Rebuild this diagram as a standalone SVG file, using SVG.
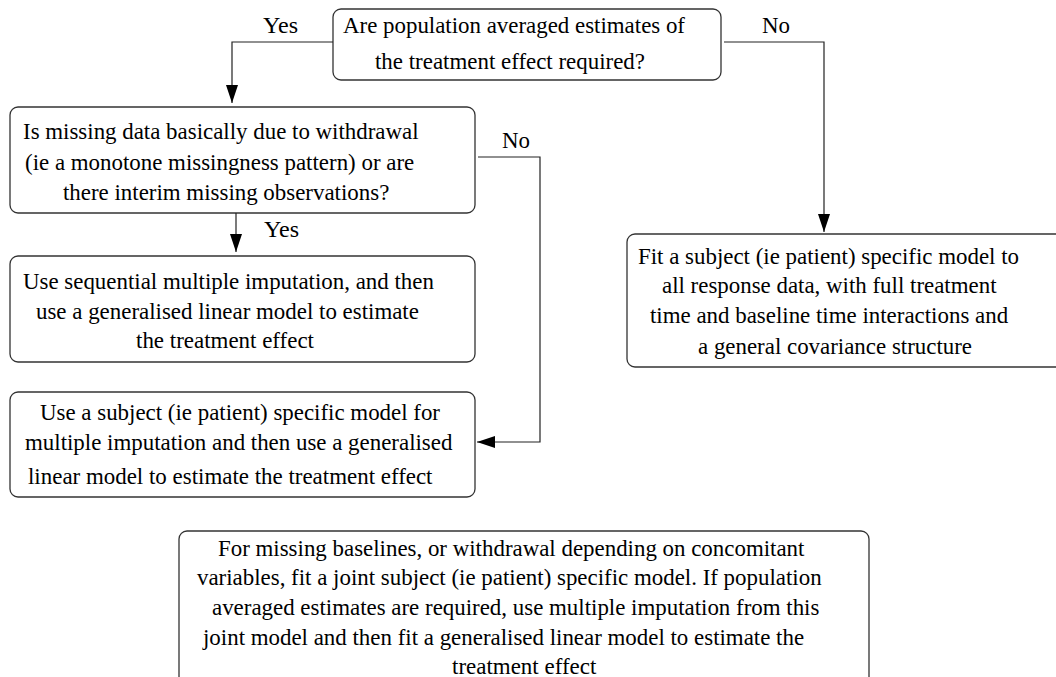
<svg xmlns="http://www.w3.org/2000/svg" width="1056" height="677" viewBox="0 0 1056 677" font-family="Liberation Serif">
<style>
.box{fill:#fff;stroke:#333;stroke-width:1.3}
.t{font-family:'Liberation Serif','Times New Roman',serif;font-size:22.9px;fill:#000}
.c{fill:none;stroke:#222;stroke-width:1.2}
</style>
<defs>
<marker id="ah" markerUnits="userSpaceOnUse" markerWidth="18" markerHeight="12" refX="18" refY="6" orient="auto">
<path d="M0,0 L18,6 L0,12 z" fill="#000"/>
</marker>
</defs>
<rect width="1056" height="677" fill="#fff"/>
<g id="q1">
<rect class="box" x="333" y="9" width="388" height="71" rx="8"/>
<text class="t" x="343" y="33" textLength="342" lengthAdjust="spacingAndGlyphs">Are population averaged estimates of</text>
<text class="t" x="375" y="69" textLength="270" lengthAdjust="spacingAndGlyphs">the treatment effect required?</text>
</g>
<g id="q2">
<rect class="box" x="10" y="107" width="465" height="106" rx="8"/>
<text class="t" x="23" y="139" textLength="395.6" lengthAdjust="spacingAndGlyphs">Is missing data basically due to withdrawal</text>
<text class="t" x="25" y="170" textLength="389.2" lengthAdjust="spacingAndGlyphs">(ie a monotone missingness pattern) or are</text>
<text class="t" x="63" y="200" textLength="326.3" lengthAdjust="spacingAndGlyphs">there interim missing observations?</text>
</g>
<g id="a1">
<rect class="box" x="10" y="256" width="465" height="106" rx="8"/>
<text class="t" x="23" y="289" textLength="410.9" lengthAdjust="spacingAndGlyphs">Use sequential multiple imputation, and then</text>
<text class="t" x="36" y="319" textLength="382.9" lengthAdjust="spacingAndGlyphs">use a generalised linear model to estimate</text>
<text class="t" x="136" y="348" textLength="178" lengthAdjust="spacingAndGlyphs">the treatment effect</text>
</g>
<g id="a2">
<rect class="box" x="10" y="392" width="465" height="105" rx="8"/>
<text class="t" x="40" y="420" textLength="400" lengthAdjust="spacingAndGlyphs">Use a subject (ie patient) specific model for</text>
<text class="t" x="25" y="450" textLength="427.4" lengthAdjust="spacingAndGlyphs">multiple imputation and then use a generalised</text>
<text class="t" x="28" y="484" textLength="404.5" lengthAdjust="spacingAndGlyphs">linear model to estimate the treatment effect</text>
</g>
<g id="a3">
<rect class="box" x="627" y="234" width="440" height="133" rx="8"/>
<text class="t" x="638" y="264" textLength="381" lengthAdjust="spacingAndGlyphs">Fit a subject (ie patient) specific model to</text>
<text class="t" x="662" y="293" textLength="334.5" lengthAdjust="spacingAndGlyphs">all response data, with full treatment</text>
<text class="t" x="650" y="323" textLength="358.1" lengthAdjust="spacingAndGlyphs">time and baseline time interactions and</text>
<text class="t" x="698" y="354" textLength="274" lengthAdjust="spacingAndGlyphs">a general covariance structure</text>
</g>
<g id="note">
<rect class="box" x="179" y="531" width="690" height="160" rx="8"/>
<text class="t" x="218" y="556" textLength="586.4" lengthAdjust="spacingAndGlyphs">For missing baselines, or withdrawal depending on concomitant</text>
<text class="t" x="197" y="585" textLength="624.6" lengthAdjust="spacingAndGlyphs">variables, fit a joint subject (ie patient) specific model. If population</text>
<text class="t" x="212" y="615" textLength="607.4" lengthAdjust="spacingAndGlyphs">averaged estimates are required, use multiple imputation from this</text>
<text class="t" x="203" y="645" textLength="601.1" lengthAdjust="spacingAndGlyphs">joint model and then fit a generalised linear model to estimate the</text>
<text class="t" x="452" y="674" textLength="144.3" lengthAdjust="spacingAndGlyphs">treatment effect</text>
</g>
<g id="connectors">
<path class="c" d="M333,42 H232 V103" marker-end="url(#ah)"/>
<path class="c" d="M724,42 H824 V232" marker-end="url(#ah)"/>
<path class="c" d="M236,213 V252" marker-end="url(#ah)"/>
<path class="c" d="M478,157 H540 V442 H477" marker-end="url(#ah)"/>
<text class="t" x="263" y="33" textLength="35" lengthAdjust="spacingAndGlyphs">Yes</text>
<text class="t" x="762" y="33" textLength="28" lengthAdjust="spacingAndGlyphs">No</text>
<text class="t" x="264" y="237" textLength="35" lengthAdjust="spacingAndGlyphs">Yes</text>
<text class="t" x="502" y="148" textLength="28" lengthAdjust="spacingAndGlyphs">No</text>
</g>
</svg>
